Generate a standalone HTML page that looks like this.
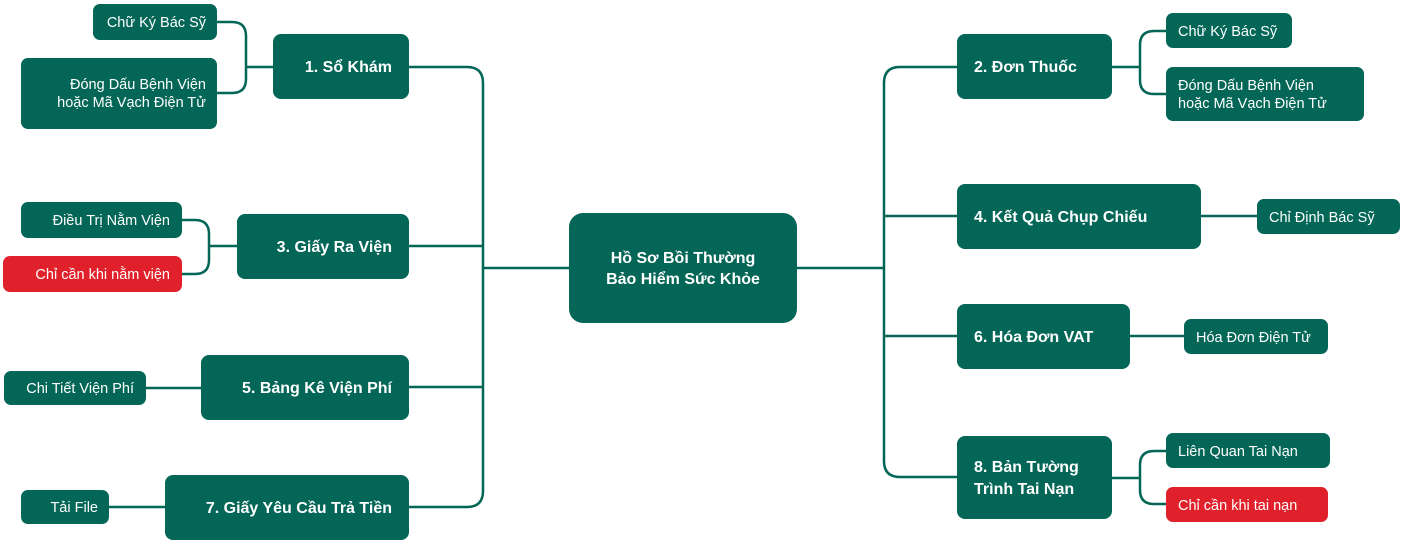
<!DOCTYPE html>
<html><head><meta charset="utf-8"><style>
html,body{margin:0;padding:0;background:#fff;}
svg{display:block;}
text{font-family:"Liberation Sans",sans-serif;fill:#fff;}
.m{font-weight:bold;font-size:16px;}
.c{font-size:14.5px;}
</style></head><body>
<svg width="1404" height="545" viewBox="0 0 1404 545" xmlns="http://www.w3.org/2000/svg">
<g fill="none" stroke="#036656" stroke-width="2.5">
<!-- left trunk -->
<path d="M409 67 H467 Q483 67 483 83 V491 Q483 507 467 507 H409"/>
<path d="M409 246 H483 M409 387 H483 M483 268 H569"/>
<!-- right trunk -->
<path d="M957 67 H900 Q884 67 884 83 V461 Q884 477 900 477 H957"/>
<path d="M884 216 H957 M884 336 H957 M797 268 H884"/>
<!-- brackets -->
<path d="M217 22 H232 Q246 22 246 36 V79 Q246 93 232 93 H217 M246 67 H273"/>
<path d="M182 220 H195 Q209 220 209 234 V260 Q209 274 195 274 H182 M209 246 H237"/>
<path d="M1166 31 H1154 Q1140 31 1140 45 V80 Q1140 94 1154 94 H1166 M1112 67 H1140"/>
<path d="M1166 451 H1154 Q1140 451 1140 465 V490 Q1140 504 1154 504 H1166 M1112 478 H1140"/>
<path d="M146 388 H201 M109 507 H165 M1201 216 H1257 M1130 336 H1184"/>
</g>
<g fill="#036656">
<rect x="569" y="213" width="228" height="110" rx="14"/>
<rect x="273" y="34" width="136" height="65" rx="8"/>
<rect x="237" y="214" width="172" height="65" rx="8"/>
<rect x="201" y="355" width="208" height="65" rx="8"/>
<rect x="165" y="475" width="244" height="65" rx="8"/>
<rect x="957" y="34" width="155" height="65" rx="8"/>
<rect x="957" y="184" width="244" height="65" rx="8"/>
<rect x="957" y="304" width="173" height="65" rx="8"/>
<rect x="957" y="436" width="155" height="83" rx="8"/>
<rect x="93" y="4" width="124" height="36" rx="7"/>
<rect x="21" y="58" width="196" height="71" rx="7"/>
<rect x="21" y="202" width="161" height="36" rx="7"/>
<rect x="4" y="371" width="142" height="34" rx="7"/>
<rect x="21" y="490" width="88" height="34" rx="7"/>
<rect x="1166" y="13" width="126" height="35" rx="7"/>
<rect x="1166" y="67" width="198" height="54" rx="7"/>
<rect x="1257" y="199" width="143" height="35" rx="7"/>
<rect x="1184" y="319" width="144" height="35" rx="7"/>
<rect x="1166" y="433" width="164" height="35" rx="7"/>
</g>
<g fill="#e0202a">
<rect x="3" y="256" width="179" height="36" rx="7"/>
<rect x="1166" y="487" width="162" height="35" rx="7"/>
</g>
<text class="m" x="683" y="263" text-anchor="middle">Hồ Sơ Bồi Thường</text>
<text class="m" x="683" y="284" text-anchor="middle">Bảo Hiểm Sức Khỏe</text>
<g class="m" text-anchor="end">
<text x="392" y="72">1. Sổ Khám</text>
<text x="392" y="252">3. Giấy Ra Viện</text>
<text x="392" y="393">5. Bảng Kê Viện Phí</text>
<text x="392" y="513">7. Giấy Yêu Cầu Trả Tiền</text>
</g>
<g class="m">
<text x="974" y="72">2. Đơn Thuốc</text>
<text x="974" y="222">4. Kết Quả Chụp Chiếu</text>
<text x="974" y="342">6. Hóa Đơn VAT</text>
<text x="974" y="472">8. Bản Tường</text>
<text x="974" y="494">Trình Tai Nạn</text>
</g>
<g class="c" text-anchor="end">
<text x="206" y="27">Chữ Ký Bác Sỹ</text>
<text x="206" y="89">Đóng Dấu Bệnh Viện</text>
<text x="206" y="107">hoặc Mã Vạch Điện Tử</text>
<text x="170" y="225">Điều Trị Nằm Viện</text>
<text x="170" y="279">Chỉ cần khi nằm viện</text>
<text x="134" y="393">Chi Tiết Viện Phí</text>
<text x="98" y="512">Tải File</text>
</g>
<g class="c">
<text x="1178" y="36">Chữ Ký Bác Sỹ</text>
<text x="1178" y="90">Đóng Dấu Bệnh Viện</text>
<text x="1178" y="108">hoặc Mã Vạch Điện Tử</text>
<text x="1269" y="222">Chỉ Định Bác Sỹ</text>
<text x="1196" y="342">Hóa Đơn Điện Tử</text>
<text x="1178" y="456">Liên Quan Tai Nạn</text>
<text x="1178" y="510">Chỉ cần khi tai nạn</text>
</g>
</svg>
</body></html>
